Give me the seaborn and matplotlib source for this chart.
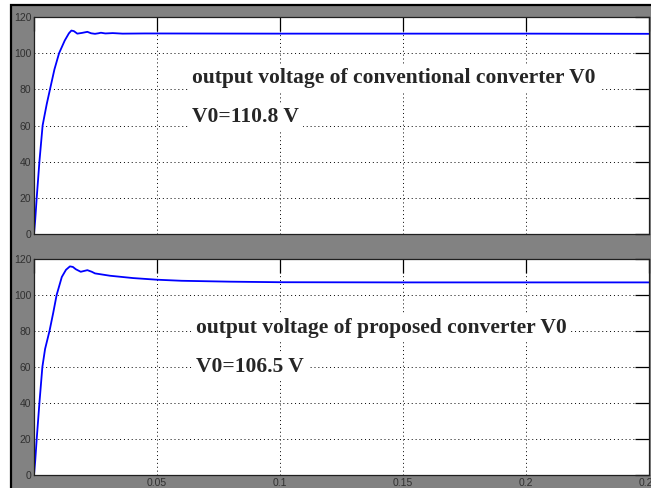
import matplotlib
matplotlib.use("Agg")
import matplotlib.pyplot as plt
import seaborn as sns
from matplotlib.patches import Rectangle

# conventional converter output voltage (time s, volts)
t_conv = [0, 0.0005, 0.0011, 0.0022, 0.0035, 0.0042, 0.0052, 0.0065, 0.0083, 0.0102,
          0.0125, 0.0142, 0.0152, 0.0162, 0.0176, 0.0195, 0.0217, 0.0232, 0.0248,
          0.0262, 0.0272, 0.029, 0.032, 0.036, 0.045, 0.1, 0.15, 0.2, 0.25]
v_conv = [0, 8, 20, 40, 60, 65, 72, 80, 91, 100,
          107, 111, 112.5, 112.2, 110.8, 111.2, 111.8, 111.0, 110.7,
          111.0, 111.3, 110.9, 111.1, 110.8, 110.9, 110.8, 110.8, 110.8, 110.7]

# proposed converter output voltage (time s, volts)
t_prop = [0, 0.0005, 0.0011, 0.0022, 0.0034, 0.0045, 0.0063, 0.0078, 0.0092, 0.0113,
          0.013, 0.0146, 0.0158, 0.017, 0.019, 0.0217, 0.0235, 0.0248, 0.0309,
          0.0403, 0.0499, 0.06, 0.08, 0.1, 0.15, 0.2, 0.25]
v_prop = [0, 8, 20, 40, 60, 70, 80, 90, 100, 110,
          114, 115.9, 115.6, 114.3, 112.9, 113.8, 112.9, 112.0, 110.7,
          109.4, 108.5, 107.9, 107.4, 107.1, 107.0, 107.0, 107.0]

labels = ["output voltage of conventional converter V0", "output voltage of proposed converter V0"]
values = ["V0=110.8 V", "V0=106.5 V"]
yticks = [0, 20, 40, 60, 80, 100, 120]
xticks = [0, 0.05, 0.1, 0.15, 0.2, 0.25]
xticklabels = ["", "0.05", "0.1", "0.15", "0.2", "0.25"]

sns.set_style("white")
plt.rcParams['font.family'] = ['Liberation Sans', 'DejaVu Sans']

fig = plt.figure(figsize=(6.51, 4.88), dpi=100)
fig.patch.set_facecolor("white")
fig.patches.append(Rectangle((11 / 651, -0.01), 1.0, (483 / 488) + 0.01, transform=fig.transFigure,
                             facecolor="#828282", edgecolor="black", linewidth=1.6, zorder=-1))

ax1 = fig.add_axes([34 / 651, 1 - 234 / 488, 615 / 651, 217 / 488])
ax2 = fig.add_axes([34 / 651, 1 - 475 / 488, 615 / 651, 216 / 488])

series = [(t_conv, v_conv), (t_prop, v_prop)]
text_pos = [(0.0642, 86.3, 64.7), (0.0659, 81.7, 60.0)]

for i, ax in enumerate([ax1, ax2]):
    t, v = series[i]
    sns.lineplot(x=t, y=v, ax=ax, color="blue", linewidth=1.3, estimator=None, sort=False)
    ax.set_facecolor("white")
    ax.set_xlim(0, 0.25)
    ax.set_ylim(0, 120)
    ax.set_yticks(yticks)
    ax.set_yticklabels([str(y) for y in yticks])
    ax.set_xticks(xticks)
    if i == 1:
        ax.set_xticklabels(xticklabels)
    else:
        ax.set_xticklabels([])
    ax.tick_params(direction="in", length=10, width=0.9, color="black",
                   top=True, right=True, labelsize=7.5, labelcolor="#303030", pad=2)
    ax.grid(True, linestyle=(0, (1, 3)), color="black", linewidth=0.7)
    for s in ax.spines.values():
        s.set_color("#202020")
        s.set_linewidth(0.9)
    x0, y_a, y_b = text_pos[i]
    ax.text(x0, y_a, labels[i], fontsize=15.5, fontweight="bold", family="Liberation Serif",
            va="center", ha="left", zorder=5,
            bbox=dict(facecolor="white", edgecolor="none", pad=3))
    ax.text(x0, y_b, values[i], fontsize=15.5, fontweight="bold", family="Liberation Serif",
            va="center", ha="left", zorder=5,
            bbox=dict(facecolor="white", edgecolor="none", pad=3))

fig.savefig("out.png", dpi=100)
